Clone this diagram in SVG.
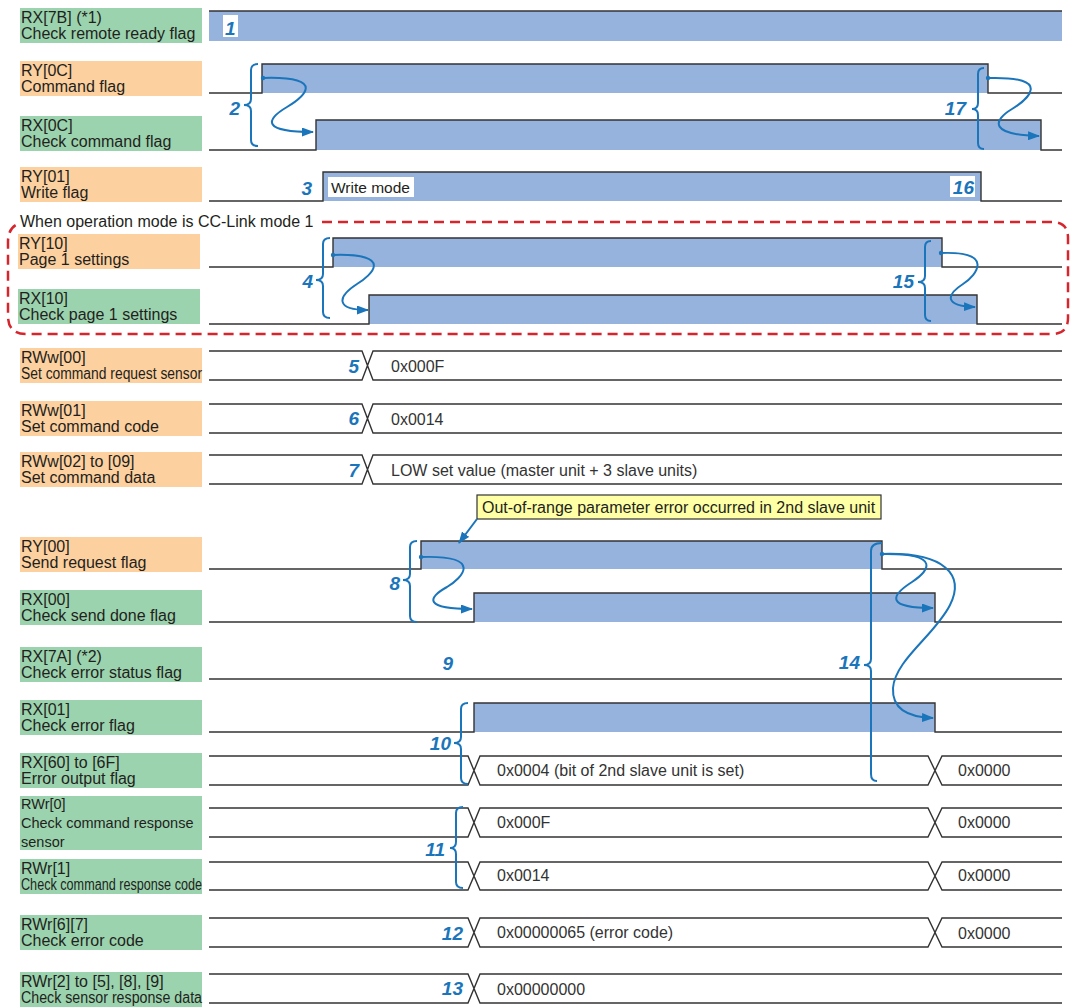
<svg xmlns="http://www.w3.org/2000/svg" width="1074" height="1008" viewBox="0 0 1074 1008">
<style>
.bg{fill:#ffffff}
.lo{fill:#fdd09f}
.lg{fill:#9bd3ae}
.lt{font-family:"Liberation Sans",Arial,sans-serif;font-size:16px;fill:#231f20}
.bt{font-family:"Liberation Sans",Arial,sans-serif;font-size:16px;fill:#333333}
.hi{fill:#95b3dd}
.sg{fill:none;stroke:#333333;stroke-width:1.4}
.num{font-family:"Liberation Sans",Arial,sans-serif;font-size:19px;font-weight:bold;font-style:italic;fill:#1b75bb}
.br{fill:none;stroke:#1b75bb;stroke-width:2}
.ar{fill:none;stroke:#1b75bb;stroke-width:2;marker-end:url(#ah)}
.dot{fill:#1b75bb}
.wb{fill:#ffffff}
</style>
<defs>
<marker id="ah" markerUnits="userSpaceOnUse" markerWidth="12" markerHeight="9" refX="11" refY="4.5" orient="auto">
<path d="M0,0 L12,4.5 L0,9 z" fill="#1b75bb"/>
</marker>
</defs>
<rect class="bg" x="0" y="0" width="1074" height="1008"/>

<g id="mode-box">
<text class="lt" x="20" y="227">When operation mode is CC-Link mode 1</text>
<path d="M322,222 H1052 Q1068,222 1068,238 V318 Q1068,334 1052,334 H26 Q8,334 8,316 V242 Q8,228 18,224" fill="none" stroke="#d7252e" stroke-width="2.5" stroke-dasharray="10 6"/>
</g>

<g id="rx7b">
<rect class="lg" x="20" y="8" width="182" height="35"/>
<text class="lt" x="21" y="23">RX[7B] (*1)</text>
<text class="lt" x="21" y="39">Check remote ready flag</text>
<rect class="hi" x="209" y="11" width="853" height="30"/>
<path class="sg" d="M209,11 H1062"/>
</g>

<g id="ry0c">
<rect class="lo" x="20" y="61" width="182" height="35"/>
<text class="lt" x="21" y="76">RY[0C]</text>
<text class="lt" x="21" y="92">Command flag</text>
<rect class="hi" x="262" y="64" width="726" height="29"/>
<path class="sg" d="M209,93 H262 V64 H988 V93 H1062"/>
</g>

<g id="rx0c">
<rect class="lg" x="20" y="116" width="182" height="35"/>
<text class="lt" x="21" y="131">RX[0C]</text>
<text class="lt" x="21" y="147">Check command flag</text>
<rect class="hi" x="316" y="120" width="725" height="30"/>
<path class="sg" d="M209,150 H316 V120 H1041 V150 H1062"/>
</g>

<g id="ry01">
<rect class="lo" x="20" y="167" width="182" height="35"/>
<text class="lt" x="21" y="182">RY[01]</text>
<text class="lt" x="21" y="198">Write flag</text>
<rect class="hi" x="323" y="172" width="658" height="29"/>
<path class="sg" d="M209,201 H323 V172 H981 V201 H1062"/>
<rect class="wb" x="328" y="177" width="86" height="20"/>
<text class="lt" x="331" y="193" style="font-size:15.5px">Write mode</text>
</g>

<g id="ry10">
<rect class="lo" x="18" y="234" width="182" height="35"/>
<text class="lt" x="19" y="249">RY[10]</text>
<text class="lt" x="19" y="265">Page 1 settings</text>
<rect class="hi" x="333" y="238" width="609" height="29"/>
<path class="sg" d="M209,267 H333 V238 H942 V267 H1062"/>
</g>

<g id="rx10">
<rect class="lg" x="18" y="289" width="182" height="35"/>
<text class="lt" x="19" y="304">RX[10]</text>
<text class="lt" x="19" y="320">Check page 1 settings</text>
<rect class="hi" x="369" y="295" width="608" height="29"/>
<path class="sg" d="M209,324 H369 V295 H977 V324 H1062"/>
</g>

<g id="rww00">
<rect class="lo" x="20" y="348" width="182" height="35"/>
<text class="lt" x="21" y="363">RWw[00]</text>
<text class="lt" x="21" y="379" textLength="181" lengthAdjust="spacingAndGlyphs">Set command request sensor</text>
<path class="sg" d="M209,351 H362 L373,380 H1062 M209,380 H362 L373,351 H1062"/>
<text class="bt" x="391" y="372">0x000F</text>
</g>

<g id="rww01">
<rect class="lo" x="20" y="401" width="182" height="35"/>
<text class="lt" x="21" y="416">RWw[01]</text>
<text class="lt" x="21" y="432">Set command code</text>
<path class="sg" d="M209,404 H362 L373,433 H1062 M209,433 H362 L373,404 H1062"/>
<text class="bt" x="391" y="425">0x0014</text>
</g>

<g id="rww02">
<rect class="lo" x="20" y="452" width="182" height="35"/>
<text class="lt" x="21" y="467">RWw[02] to [09]</text>
<text class="lt" x="21" y="483">Set command data</text>
<path class="sg" d="M209,455 H362 L373,484 H1062 M209,484 H362 L373,455 H1062"/>
<text class="bt" x="391" y="476">LOW set value (master unit + 3 slave units)</text>
</g>

<g id="note">
<rect x="477" y="495" width="404" height="24" fill="#ffffa6" stroke="#333333" stroke-width="1.2"/>
<text class="lt" x="482" y="513">Out-of-range parameter error occurred in 2nd slave unit</text>
</g>

<g id="ry00">
<rect class="lo" x="20" y="537" width="182" height="35"/>
<text class="lt" x="21" y="552">RY[00]</text>
<text class="lt" x="21" y="568">Send request flag</text>
<rect class="hi" x="421" y="541" width="461" height="28"/>
<path class="sg" d="M209,569 H421 V541 H882 V569 H1062"/>
</g>

<g id="rx00">
<rect class="lg" x="20" y="590" width="182" height="35"/>
<text class="lt" x="21" y="605">RX[00]</text>
<text class="lt" x="21" y="621">Check send done flag</text>
<rect class="hi" x="474" y="593" width="461" height="29"/>
<path class="sg" d="M209,622 H474 V593 H935 V622 H1062"/>
</g>

<g id="rx7a">
<rect class="lg" x="20" y="647" width="182" height="35"/>
<text class="lt" x="21" y="662">RX[7A] (*2)</text>
<text class="lt" x="21" y="678">Check error status flag</text>
<path class="sg" d="M209,679 H1062"/>
</g>

<g id="rx01">
<rect class="lg" x="20" y="700" width="182" height="35"/>
<text class="lt" x="21" y="715">RX[01]</text>
<text class="lt" x="21" y="731">Check error flag</text>
<rect class="hi" x="474" y="703" width="461" height="29"/>
<path class="sg" d="M209,732 H474 V703 H935 V732 H1062"/>
</g>

<g id="rx60">
<rect class="lg" x="20" y="753" width="182" height="35"/>
<text class="lt" x="21" y="768">RX[60] to [6F]</text>
<text class="lt" x="21" y="784">Error output flag</text>
<path class="sg" d="M209,756 H468 L480,785 H928 L942,756 H1062 M209,785 H468 L480,756 H928 L942,785 H1062"/>
<text class="bt" x="497" y="776">0x0004 (bit of 2nd slave unit is set)</text>
<text class="bt" x="958" y="776">0x0000</text>
</g>

<g id="rwr0">
<rect class="lg" x="20" y="796" width="182" height="54"/>
<text class="lt" x="21" y="809" style="font-size:14.5px">RWr[0]</text>
<text class="lt" x="21" y="828" style="font-size:14.5px">Check command response</text>
<text class="lt" x="21" y="847" style="font-size:14.5px">sensor</text>
<path class="sg" d="M209,808 H468 L480,837 H928 L942,808 H1062 M209,837 H468 L480,808 H928 L942,837 H1062"/>
<text class="bt" x="497" y="828">0x000F</text>
<text class="bt" x="958" y="828">0x0000</text>
</g>

<g id="rwr1">
<rect class="lg" x="20" y="859" width="182" height="35"/>
<text class="lt" x="21" y="874">RWr[1]</text>
<text class="lt" x="21" y="890" textLength="181" lengthAdjust="spacingAndGlyphs">Check command response code</text>
<path class="sg" d="M209,862 H468 L480,890 H928 L942,862 H1062 M209,890 H468 L480,862 H928 L942,890 H1062"/>
<text class="bt" x="497" y="881">0x0014</text>
<text class="bt" x="958" y="881">0x0000</text>
</g>

<g id="rwr67">
<rect class="lg" x="20" y="915" width="182" height="35"/>
<text class="lt" x="21" y="930">RWr[6][7]</text>
<text class="lt" x="21" y="946">Check error code</text>
<path class="sg" d="M209,918 H468 L480,947 H928 L942,918 H1062 M209,947 H468 L480,918 H928 L942,947 H1062"/>
<text class="bt" x="497" y="938">0x00000065 (error code)</text>
<text class="bt" x="958" y="939">0x0000</text>
</g>

<g id="rwr25">
<rect class="lg" x="20" y="972" width="182" height="35"/>
<text class="lt" x="21" y="987">RWr[2] to [5], [8], [9]</text>
<text class="lt" x="21" y="1003" textLength="181" lengthAdjust="spacingAndGlyphs">Check sensor response data</text>
<path class="sg" d="M209,974 H468 L480,1003 H1062 M209,1003 H468 L480,974 H1062"/>
<text class="bt" x="497" y="995">0x00000000</text>
</g>

<g id="connectors">
<path class="br" d="M258,64 Q251,64 251,70 V99 Q251,105 244,105 Q251,105 251,111 V140 Q251,146 258,146"/>
<path class="br" d="M984,68 Q978,68 978,74 V103 Q978,109 972,109 Q978,109 978,115 V143 Q978,149 984,149"/>
<path class="br" d="M330,238 Q323,238 323,244 V274 Q323,280 316,280 Q323,280 323,286 V312 Q323,318 330,318"/>
<path class="br" d="M931,241 Q925,241 925,247 V276 Q925,282 918,282 Q925,282 925,288 V315 Q925,321 931,321"/>
<path class="br" d="M417,541 Q410,541 410,547 V574 Q410,580 403,580 Q410,580 410,586 V616 Q410,622 417,622"/>
<path class="br" d="M882,543 Q871,543 871,551 V659 Q871,665 864,665 Q871,665 871,671 V774 Q871,781 877,781"/>
<path class="br" d="M468,703 Q461,703 461,709 V737 Q461,743 454,743 Q461,743 461,749 V778 Q461,784 468,784"/>
<path class="br" d="M463,807 Q456,807 456,813 V842 Q456,848 450,848 Q456,848 456,854 V882 Q456,888 463,888"/>

<path class="ar" d="M263,78 C330,76 302,98 287,107 C265,120 262,132 313,132"/>
<path class="ar" d="M988,78 C1055,76 1027,100 1012,109 C992,121 990,135 1039,136"/>
<path class="ar" d="M333,255 C395,253 372,275 357,284 C337,297 335,310 368,310"/>
<path class="ar" d="M941,253 C995,251 977,275 963,284 C946,295 944,306 975,307"/>
<path class="ar" d="M421,557 C485,555 462,578 447,587 C427,598 424,609 472,609"/>
<path class="ar" d="M882,554 C945,553 927,572 912,582 C890,596 886,608 933,608"/>
<path class="ar" d="M882,554 C945,552 965,575 950,605 C935,635 895,660 893,688 C892,708 906,717 933,718"/>
<path class="ar" d="M477,519 L459,543"/>
<circle class="dot" cx="263" cy="78" r="2.2"/>
<circle class="dot" cx="988" cy="78" r="2.2"/>
<circle class="dot" cx="333" cy="255" r="2.2"/>
<circle class="dot" cx="941" cy="253" r="2.2"/>
<circle class="dot" cx="421" cy="557" r="2.2"/>
<circle class="dot" cx="882" cy="554" r="2.2"/>
</g>

<g id="steps">
<rect class="wb" x="223" y="15" width="15" height="22"/>
<text class="num" x="225" y="35">1</text>
<text class="num" x="240" y="115" text-anchor="end">2</text>
<text class="num" x="312" y="195" text-anchor="end">3</text>
<text class="num" x="313" y="288" text-anchor="end">4</text>
<text class="num" x="359" y="373" text-anchor="end">5</text>
<text class="num" x="359" y="425" text-anchor="end">6</text>
<text class="num" x="359" y="477" text-anchor="end">7</text>
<text class="num" x="400" y="590" text-anchor="end">8</text>
<text class="num" x="453" y="670" text-anchor="end">9</text>
<text class="num" x="451" y="750" text-anchor="end">10</text>
<text class="num" x="445" y="856" text-anchor="end">11</text>
<text class="num" x="463" y="940" text-anchor="end">12</text>
<text class="num" x="463" y="995" text-anchor="end">13</text>
<text class="num" x="860" y="669" text-anchor="end">14</text>
<text class="num" x="914" y="288" text-anchor="end">15</text>
<rect class="wb" x="950" y="176" width="25" height="21"/>
<text class="num" x="974" y="194" text-anchor="end">16</text>
<text class="num" x="966" y="115" text-anchor="end">17</text>
</g>
</svg>
